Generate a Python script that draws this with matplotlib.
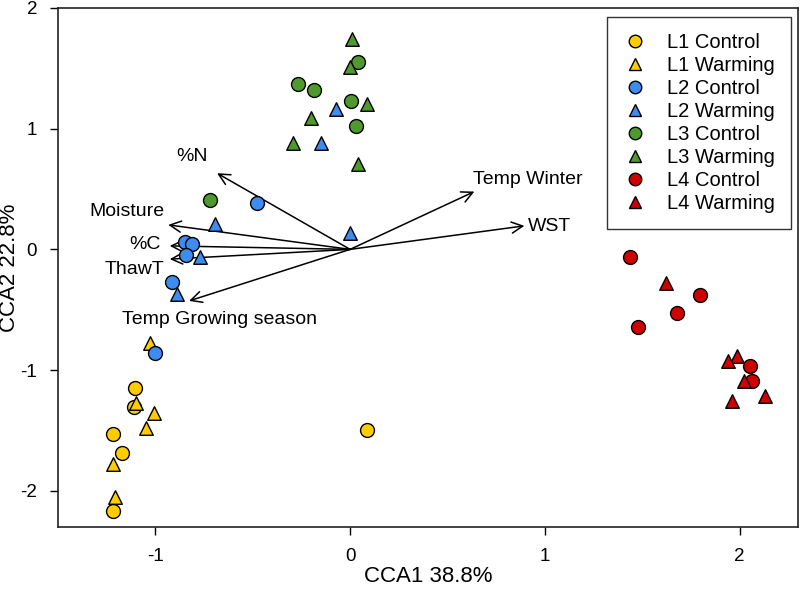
import matplotlib
matplotlib.use("Agg")
import matplotlib.pyplot as plt
from matplotlib.lines import Line2D

plt.rcParams['font.family'] = ['Liberation Sans', 'DejaVu Sans']

# ---- data ----
l1_ctrl_x = [-1.105, -1.110, -1.216, -1.172, -1.216, 0.086]
l1_ctrl_y = [-1.149, -1.307, -1.530, -1.688, -2.170, -1.495]
l1_warm_x = [-1.028, -1.100, -1.006, -1.047, -1.220, -1.208]
l1_warm_y = [-0.772, -1.270, -1.357, -1.476, -1.780, -2.055]

l2_ctrl_x = [-1.003, -0.479, -0.849, -0.814, -0.844, -0.917]
l2_ctrl_y = [-0.855, 0.388, 0.065, 0.043, -0.046, -0.267]
l2_warm_x = [-0.695, -0.772, -0.888, -0.003, -0.073, -0.151]
l2_warm_y = [0.211, -0.065, -0.371, 0.134, 1.161, 0.885]

l3_ctrl_x = [0.042, -0.266, -0.186, 0.006, 0.028, -0.717]
l3_ctrl_y = [1.553, 1.371, 1.321, 1.227, 1.025, 0.410]
l3_warm_x = [0.011, 0.001, 0.086, -0.199, -0.291, 0.040]
l3_warm_y = [1.741, 1.514, 1.205, 1.087, 0.880, 0.708]

l4_ctrl_x = [1.438, 1.797, 1.678, 1.476, 2.054, 2.066]
l4_ctrl_y = [-0.065, -0.379, -0.523, -0.645, -0.965, -1.094]
l4_warm_x = [1.621, 1.989, 1.941, 2.021, 2.129, 1.963]
l4_warm_y = [-0.275, -0.882, -0.923, -1.089, -1.211, -1.260]

env_names = ["%N", "Moisture", "%C", "ThawT", "Temp Growing season", "Temp Winter", "WST"]
env_x = [-0.683, -0.934, -0.926, -0.926, -0.827, 0.638, 0.895]
env_y = [0.631, 0.203, 0.029, -0.081, -0.427, 0.479, 0.195]

colors = {"L1": "#FFCC00", "L2": "#3F8CF0", "L3": "#4E9A2F", "L4": "#D00000"}

groups = [
    ("L1 Control", l1_ctrl_x, l1_ctrl_y, colors["L1"], "o"),
    ("L1 Warming", l1_warm_x, l1_warm_y, colors["L1"], "^"),
    ("L2 Control", l2_ctrl_x, l2_ctrl_y, colors["L2"], "o"),
    ("L2 Warming", l2_warm_x, l2_warm_y, colors["L2"], "^"),
    ("L3 Control", l3_ctrl_x, l3_ctrl_y, colors["L3"], "o"),
    ("L3 Warming", l3_warm_x, l3_warm_y, colors["L3"], "^"),
    ("L4 Control", l4_ctrl_x, l4_ctrl_y, colors["L4"], "o"),
    ("L4 Warming", l4_warm_x, l4_warm_y, colors["L4"], "^"),
]

fig = plt.figure(figsize=(8.0, 5.91), dpi=100)
ax = fig.add_axes([0.0725, 0.1083, 0.925, 0.8782])

handles = []
for name, xs, ys, c, m in groups:
    ax.scatter(xs, ys, s=100 if m == "o" else 95, c=c, marker=m,
               edgecolors="black", linewidths=1.0, zorder=3)
    handles.append(Line2D([], [], linestyle="none", marker=m, markersize=9,
                          markerfacecolor=c, markeredgecolor="black",
                          markeredgewidth=1.0, label=name))

# environmental vectors
label_pos = {
    "%N": (-0.81, 0.77, "center"),
    "Moisture": (-0.955, 0.31, "right"),
    "%C": (-0.975, 0.04, "right"),
    "ThawT": (-0.955, -0.17, "right"),
    "Temp Growing season": (-0.67, -0.58, "center"),
    "Temp Winter": (0.63, 0.58, "left"),
    "WST": (0.915, 0.19, "left"),
}
for name, ex, ey in zip(env_names, env_x, env_y):
    ax.annotate("", xy=(ex, ey), xytext=(0, 0),
                arrowprops=dict(arrowstyle="->", color="black", lw=1.1,
                                mutation_scale=20, shrinkA=0, shrinkB=0),
                zorder=2)
    tx, ty, ha = label_pos[name]
    ax.text(tx, ty, name, ha=ha, va="center", fontsize=14, color="black", zorder=4)

ax.set_xlim(-1.5, 2.3)
ax.set_ylim(-2.3, 2.0)
ax.set_xticks([-1, 0, 1, 2])
ax.set_yticks([-2, -1, 0, 1, 2])
ax.set_xticklabels(["-1", "0", "1", "2"])
ax.set_yticklabels(["-2", "-1", "0", "1", "2"])
ax.tick_params(direction="out", length=6, width=1, labelsize=13.5,
               top=False, right=False, pad=9)
for sp in ax.spines.values():
    sp.set_linewidth(1.2)
    sp.set_color("#222222")

ax.set_xlabel("CCA1 38.8%", fontsize=16, labelpad=1)
ax.set_ylabel("CCA2 22.8%", fontsize=16)
ax.yaxis.set_label_coords(-0.052, 0.5)

leg = ax.legend(handles=handles, loc="upper right", bbox_to_anchor=(0.9905, 0.983),
                borderaxespad=0, fontsize=14.5, frameon=True, fancybox=False,
                labelspacing=0.2, handletextpad=1.0, borderpad=0.8, handlelength=1.2)
leg.get_frame().set_edgecolor("black")
leg.get_frame().set_linewidth(1.0)

fig.savefig("out.png", dpi=100)
